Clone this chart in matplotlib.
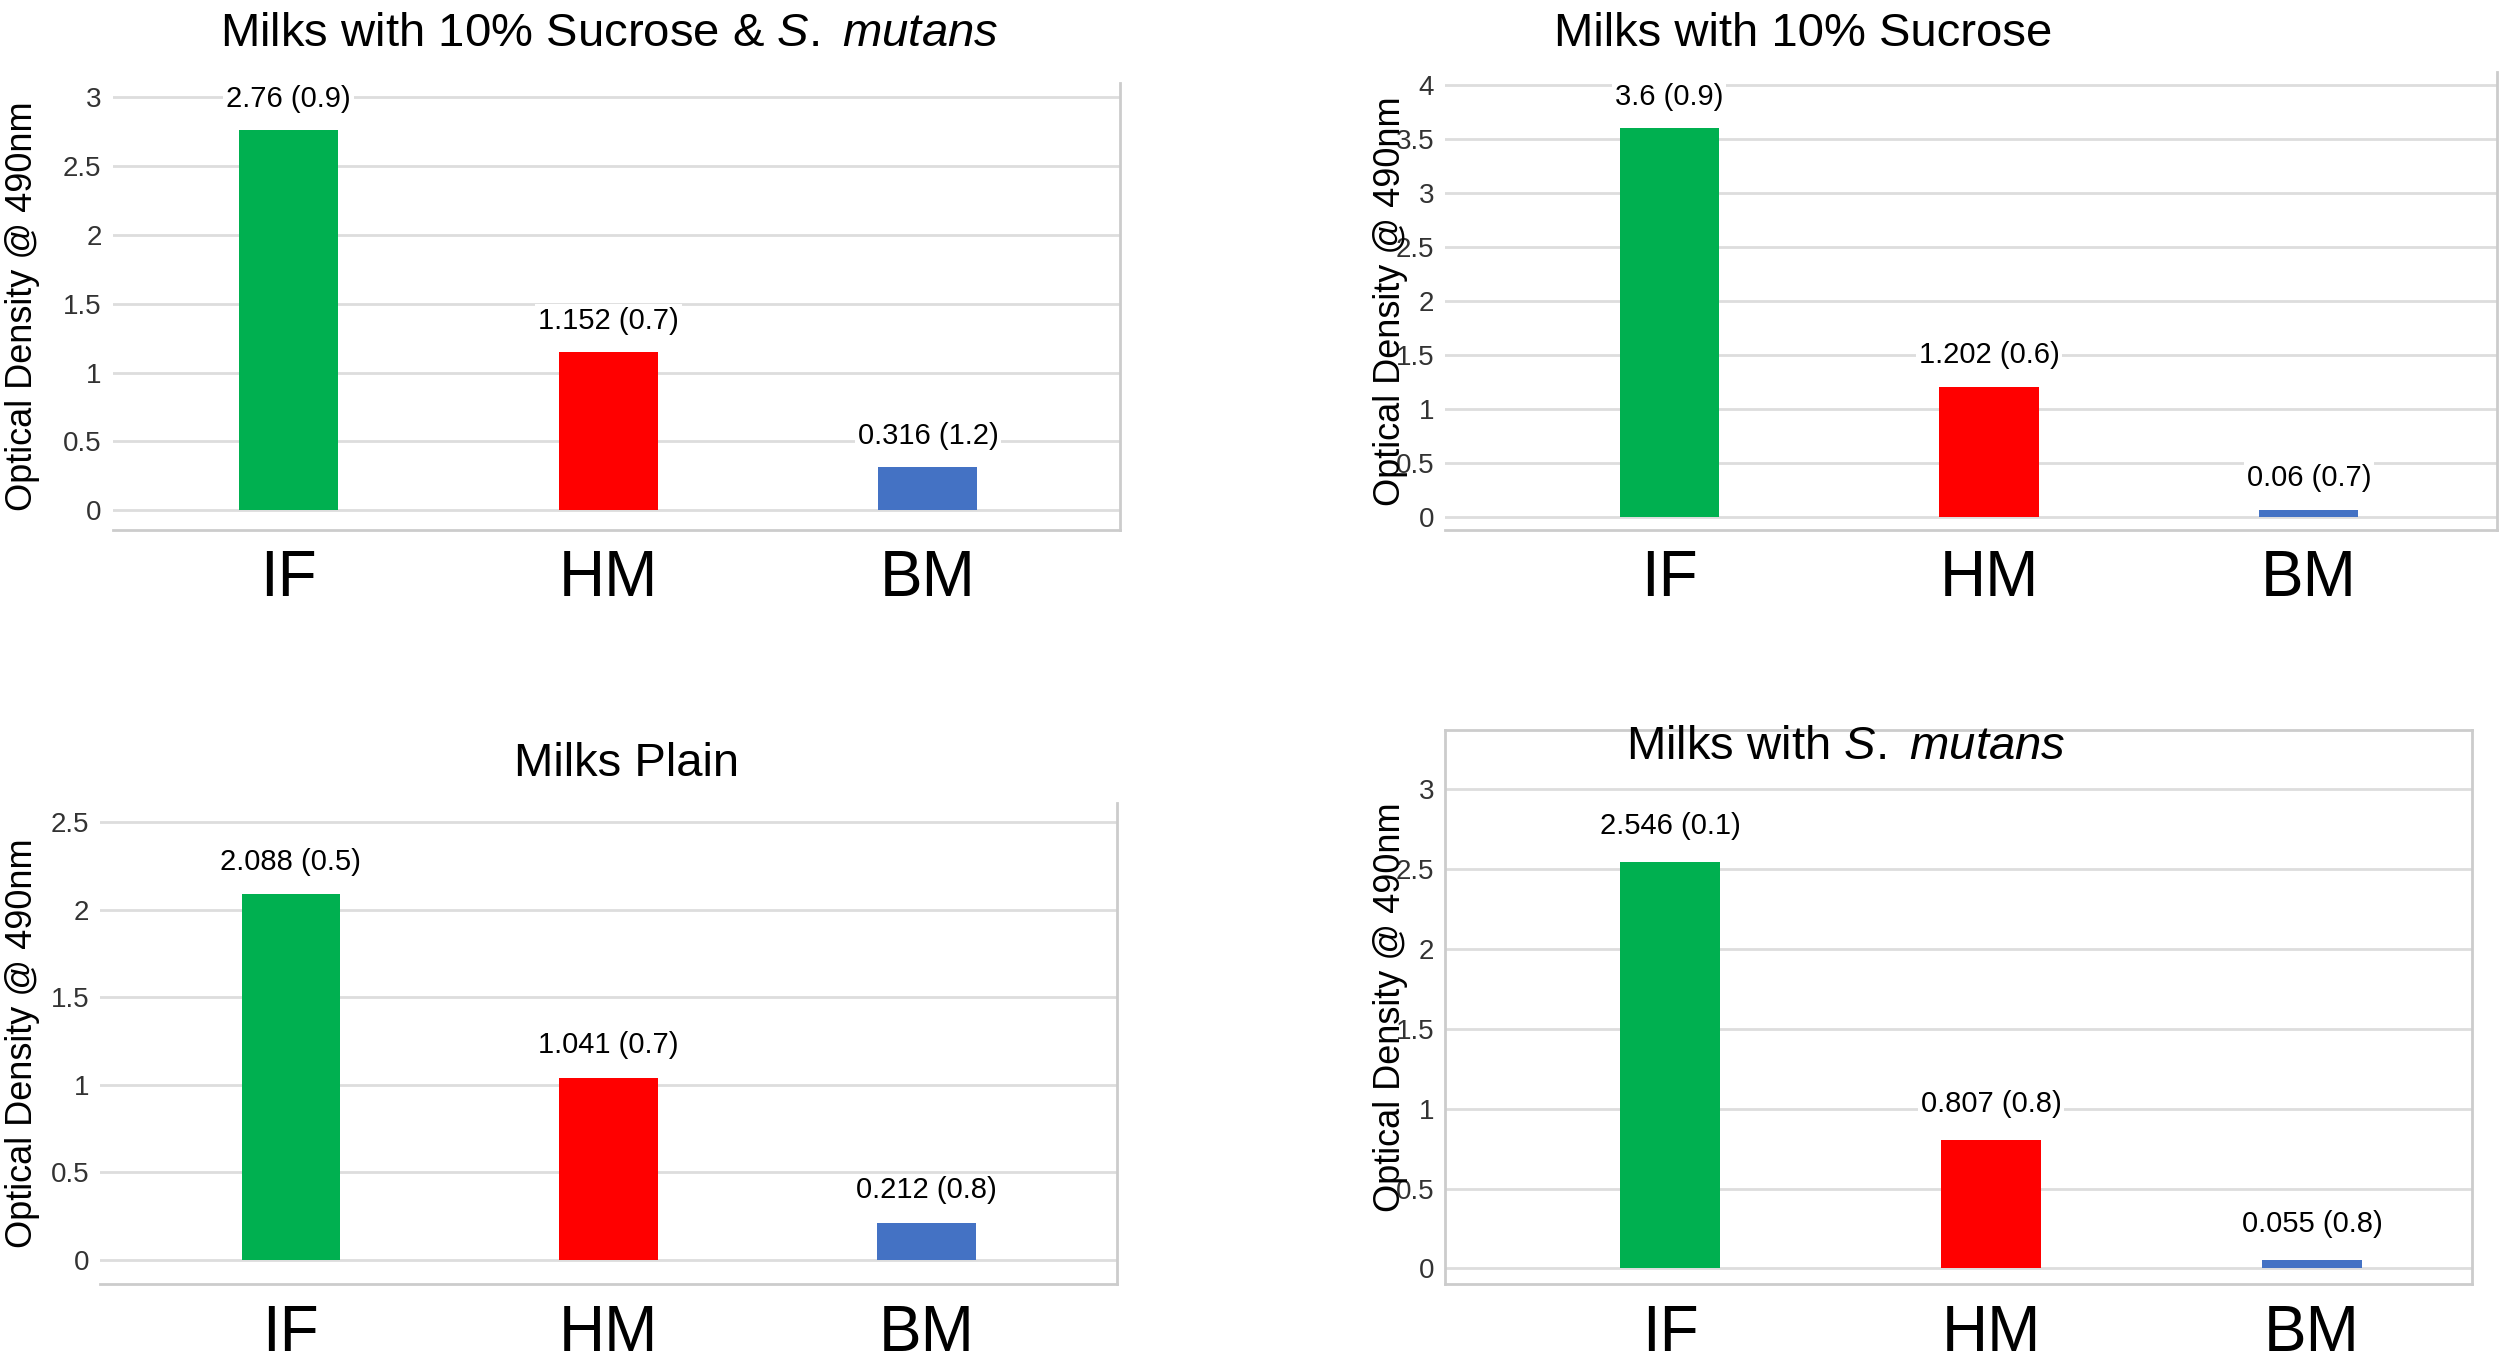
import matplotlib.pyplot as plt

plt.rcParams['font.family'] = ['Liberation Sans', 'DejaVu Sans']
plt.rcParams['mathtext.fontset'] = 'custom'
plt.rcParams['mathtext.rm'] = 'Liberation Sans'
plt.rcParams['mathtext.it'] = 'Liberation Sans:italic'

categories = ['IF', 'HM', 'BM']
colors = ['#00b050', '#ff0000', '#4472c4']

titles = ['Milks with 10% Sucrose & $\\it{S.\\ mutans}$', 'Milks with 10% Sucrose',
          'Milks Plain', 'Milks with $\\it{S.\\ mutans}$']
means = [[2.76, 1.152, 0.316], [3.6, 1.202, 0.06],
         [2.088, 1.041, 0.212], [2.546, 0.807, 0.055]]
sds = [['0.9', '0.7', '1.2'], ['0.9', '0.6', '0.7'],
       ['0.5', '0.7', '0.8'], ['0.1', '0.8', '0.8']]
mean_labels = [['2.76', '1.152', '0.316'], ['3.6', '1.202', '0.06'],
               ['2.088', '1.041', '0.212'], ['2.546', '0.807', '0.055']]
yticks = [[0, 0.5, 1, 1.5, 2, 2.5, 3], [0, 0.5, 1, 1.5, 2, 2.5, 3, 3.5, 4],
          [0, 0.5, 1, 1.5, 2, 2.5], [0, 0.5, 1, 1.5, 2, 2.5, 3]]

# layout (figure fractions) and limits per panel
rects = [[0.045, 0.612, 0.402, 0.327], [0.577, 0.612, 0.420, 0.335],
         [0.040, 0.059, 0.406, 0.353], [0.577, 0.059, 0.410, 0.406]]
ylims = [(-0.14, 3.1), (-0.12, 4.12), (-0.14, 2.61), (-0.1, 3.37)]
xlims = [(-0.55, 2.6), (-0.7, 2.59), (-0.6, 2.6), (-0.7, 2.5)]
title_pos = [(0.243, 0.975), (0.72, 0.975), (0.25, 0.44), (0.737, 0.453)]
ylabel_x = [0.002, 0.548, 0.002, 0.548]

fig = plt.figure(figsize=(25.05, 13.65), dpi=100)
for i in range(4):
    ax = fig.add_axes(rects[i])
    ax.set_axisbelow(True)
    ax.grid(axis='y', color='#dddddd', linewidth=2)
    ax.bar(range(3), means[i], width=0.31, color=colors, zorder=2)
    top = ylims[i][1]
    for j in range(3):
        ax.text(j, means[i][j] + 0.04 * top, mean_labels[i][j] + ' (' + sds[i][j] + ')',
                ha='center', va='bottom', fontsize=21, zorder=3,
                bbox=dict(facecolor='white', edgecolor='none', pad=2))
    ax.set_xlim(xlims[i])
    ax.set_ylim(ylims[i])
    ax.set_xticks(range(3))
    ax.set_xticklabels(categories, fontsize=46)
    ax.set_yticks(yticks[i])
    ax.set_yticklabels(['%g' % v for v in yticks[i]], fontsize=20, color='#333333')
    ax.tick_params(length=0, pad=8)
    ax.tick_params(axis='x', pad=14)
    for s in ['left', 'top']:
        ax.spines[s].set_visible(i == 3)
    for s in ax.spines.values():
        s.set_color('#cccccc')
        s.set_linewidth(2)
    fig.text(ylabel_x[i], rects[i][1] + rects[i][3] / 2, 'Optical Density @ 490nm',
             rotation=90, ha='left', va='center', fontsize=26)
    fig.text(title_pos[i][0], title_pos[i][1], titles[i], ha='center', va='center', fontsize=34)

fig.savefig('out.png', dpi=100)
